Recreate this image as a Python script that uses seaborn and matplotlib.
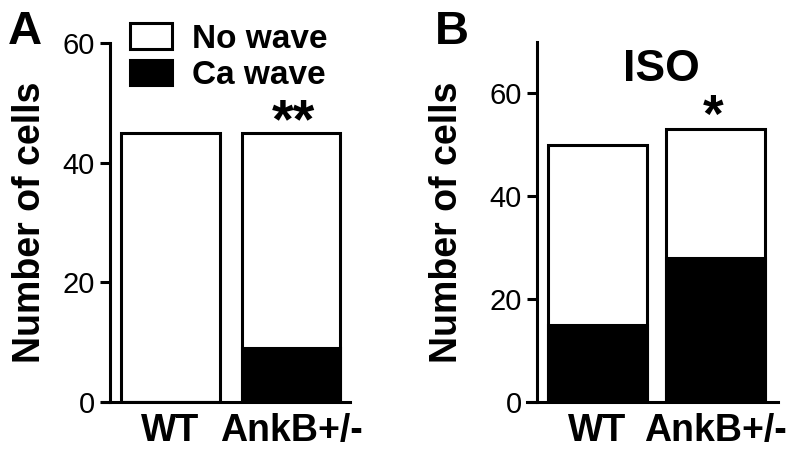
import matplotlib.pyplot as plt
import seaborn as sns
import pandas as pd
from matplotlib.patches import Patch

groups = ["WT", "AnkB+/-"]
total_base = [45, 45]
wave_base = [0, 9]
total_iso = [50, 53]
wave_iso = [15, 28]

sns.set_style("ticks")
plt.rcParams['font.family'] = ['Liberation Sans', 'DejaVu Sans']
for k in ["text.color", "axes.labelcolor", "xtick.color", "ytick.color", "axes.edgecolor"]:
    plt.rcParams[k] = "black"

LW = 2.2


def stacked(ax, total, wave, width):
    df = pd.DataFrame({"group": groups, "total": total, "wave": wave})
    sns.barplot(data=df, x="group", y="total", color="white", edgecolor="black",
                linewidth=LW, width=width, saturation=1, errorbar=None, ax=ax)
    sns.barplot(data=df, x="group", y="wave", color="black", edgecolor="black",
                linewidth=LW, width=width, saturation=1, errorbar=None, ax=ax)
    sns.despine(ax=ax)
    ax.set_xlabel("")
    ax.set_ylabel("Number of cells", fontsize=27, fontweight="bold")
    ax.set_yticks([0, 20, 40, 60])
    ax.tick_params(axis="y", labelsize=21, width=LW, length=7, pad=4)
    ax.tick_params(axis="x", length=0, pad=8)
    for lab in ax.get_xticklabels():
        lab.set_fontsize(27)
        lab.set_fontweight("bold")
    for s in ax.spines.values():
        s.set_linewidth(LW)


fig = plt.figure(figsize=(8, 4.54), dpi=100)
axA = fig.add_axes([102 / 800, 1 - 402 / 454, 248 / 800, 359 / 454])
axB = fig.add_axes([527 / 800, 1 - 402 / 454, 251 / 800, 360 / 454])

stacked(axA, total_base, wave_base, 0.82)
axA.set_xlim(-0.568, 1.49)
axA.set_ylim(0, 60)
axA.spines["left"].set_position(("axes", 8 / 248))
axA.yaxis.set_label_coords(-0.218, 0.5)
axA.text(1.02, 44.2, "**", ha="center", va="baseline", fontsize=40, fontweight="bold")

stacked(axB, total_iso, wave_iso, 0.84)
axB.set_xlim(-0.597, 1.53)
axB.set_ylim(0, 70)
axB.spines["left"].set_position(("axes", 10 / 251))
axB.yaxis.set_label_coords(-0.247, 0.5)
axB.text(0.98, 52.6, "*", ha="center", va="baseline", fontsize=38, fontweight="bold")
axB.text(0.54, 64.6, "ISO", ha="center", va="center", fontsize=32, fontweight="bold")

handles = [Patch(facecolor="white", edgecolor="black", linewidth=LW, label="No wave"),
           Patch(facecolor="black", edgecolor="black", linewidth=LW, label="Ca wave")]
fig.legend(handles=handles, loc="upper left", bbox_to_anchor=(130 / 800, 1 - 23 / 454),
           frameon=False, prop={"size": 24, "weight": "bold"}, borderpad=0,
           borderaxespad=0, handlelength=1.27, handleheight=0.82,
           handletextpad=0.6, labelspacing=0.15)

fig.text(8 / 800, 1 - 44 / 454, "A", fontsize=34, fontweight="bold", va="baseline")
fig.text(435 / 800, 1 - 44 / 454, "B", fontsize=34, fontweight="bold", va="baseline")

fig.savefig("out.png", dpi=100)
